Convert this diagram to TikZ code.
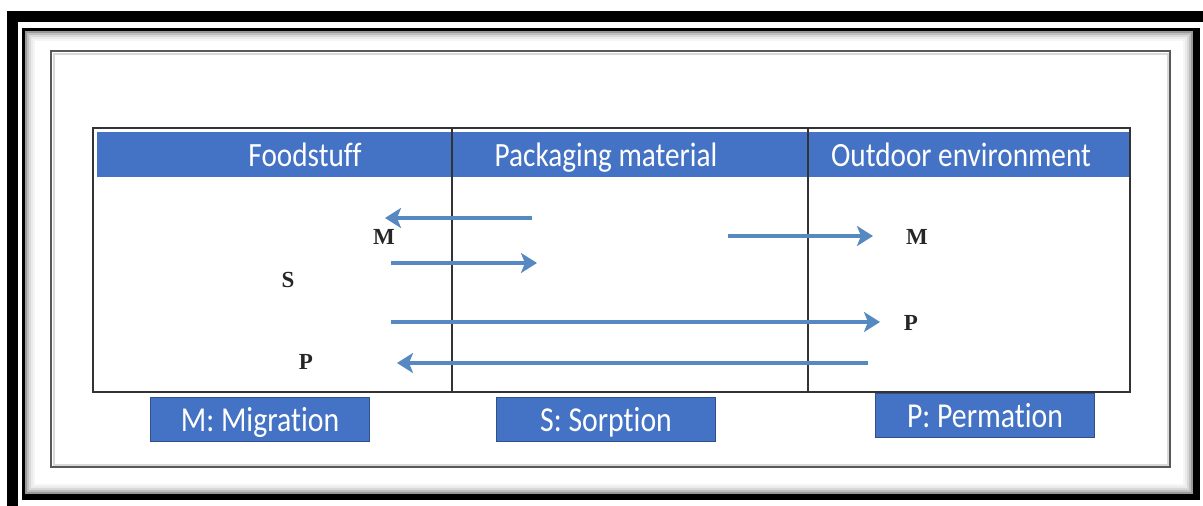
\documentclass[tikz,border=0pt]{standalone}
\usepackage{fontspec}
\newfontfamily\hdrfont[Ligatures=NoCommon]{Carlito}
\newfontfamily\lblfont{Liberation Serif}
\usetikzlibrary{arrows.meta}

\begin{document}
\begin{tikzpicture}[x=1pt, y=-1pt]
% Food / packaging / environment interactions
\definecolor{pkgBlue}{RGB}{68,114,196}
\definecolor{pkgArrow}{RGB}{86,136,194}
\providecommand{\pkgLineColor}{black!80}
\providecommand{\pkgArrowWidth}{4pt}
\providecommand{\pkgHdr}[1]{\scalebox{0.86}[1]{#1}}
\providecommand{\pkgLeg}[1]{\scalebox{0.85}[1]{#1}}
\tikzset{
  hdrtext/.style={text=white, font=\hdrfont\fontsize{34}{36}\selectfont, inner sep=0pt, anchor=base},
  legbox/.style={fill=pkgBlue, draw=pkgBlue!70!black, line width=0.8pt,
    minimum width=219pt, minimum height=44pt, inner sep=0pt},
  legtext/.style={text=white, font=\hdrfont\fontsize{35}{37}\selectfont, inner sep=0pt, anchor=base},
  lbltext/.style={font=\lblfont\bfseries\fontsize{23}{25}\selectfont, text=black!85, inner sep=0pt},
  flow/.style={draw=pkgArrow, line width=\pkgArrowWidth, -{Stealth[length=16pt, width=20pt, inset=4pt]}}
}
\useasboundingbox (0,0) rectangle (1203,506);
% Outer frame
\fill[black] (7,11) rectangle (18,506);
\fill[black] (7,11) rectangle (1203,22);
\draw[black, line width=3pt] (23.5,29.5) rectangle (1196.5,497);
\fill[black] (1193,28) rectangle (1200,500);
\fill[black] (22,494) rectangle (1200,500);
% Soft shadow inside the frame
\foreach \d/\c in {1/40,3/25,5/15,7/8,9/4} {
  \draw[black!\c, line width=2pt] (25+\d,31+\d) rectangle (1193-\d,494-\d);
}
% Inner frame
\draw[black!15, line width=2pt] (53.5,53.5) rectangle (1167.5,464.5);
\draw[black!65, line width=1.6pt] (51,51) rectangle (1170,467);
% Table
\begin{scope}[line cap=rect]
  \fill[pkgBlue] (97,132) rectangle (1130,177);
  \draw[\pkgLineColor, line width=1.8pt] (93,128) rectangle (1130,392);
  \draw[\pkgLineColor, line width=1.8pt] (452,128) -- (452,392);
  \draw[\pkgLineColor, line width=1.8pt] (808,128) -- (808,392);
\end{scope}
% Column headings
\node[hdrtext] (hdrfood) at (305,166) {\pkgHdr{Foodstuff}};
\node[hdrtext] (hdrpack) at (606,166) {\pkgHdr{Packaging material}};
\node[hdrtext] (hdrout) at (961,166) {\pkgHdr{Outdoor environment}};
% Letters
\node[lbltext] (mfood) at (384,237) {M};
\node[lbltext] (sfood) at (288,280) {S};
\node[lbltext] (pfood) at (306,362) {P};
\node[lbltext] (mout) at (917,237) {M};
\node[lbltext] (pout) at (911,323) {P};
% Arrow ends
\coordinate (mintoS) at (532,218);
\coordinate (mintoE) at (385,218);
\coordinate (sorpS) at (391,263);
\coordinate (sorpE) at (537,263);
\coordinate (moutS) at (728,236);
\coordinate (moutE) at (873,236);
\coordinate (poutS) at (391,322);
\coordinate (poutE) at (880,322);
\coordinate (pinS) at (868,363);
\coordinate (pinE) at (397,363);
% Arrows
\draw[flow] (mintoS) -- (mintoE);
\draw[flow] (sorpS) -- (sorpE);
\draw[flow] (moutS) -- (moutE);
\draw[flow] (poutS) -- (poutE);
\draw[flow] (pinS) -- (pinE);
% Legend
\node[legbox] (legmig) at (260,419) {};
\node[legbox] (legsorp) at (606,419) {};
\node[legbox] (legperm) at (985,415) {};
\node[legtext] (legmigtxt) at (260,431) {\pkgLeg{M: Migration}};
\node[legtext] (legsorptxt) at (606,431) {\pkgLeg{S: Sorption}};
\node[legtext] (legpermtxt) at (985,427) {\pkgLeg{P: Permation}};
\end{tikzpicture}
\end{document}
